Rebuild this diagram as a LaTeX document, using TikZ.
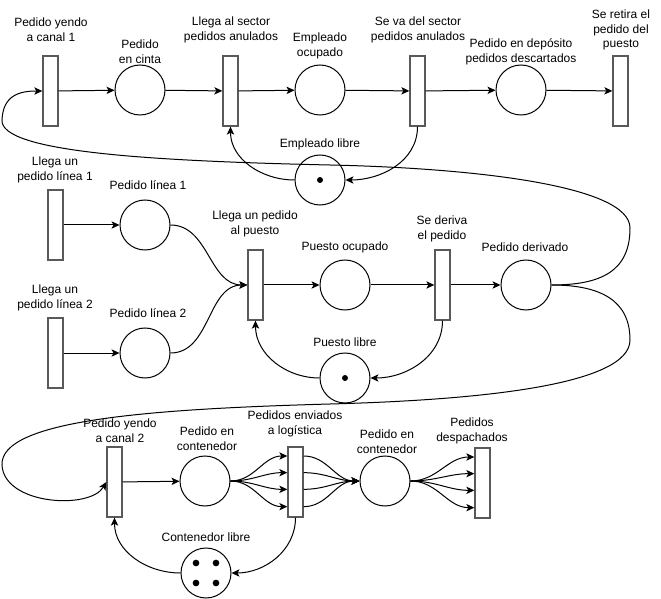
\documentclass[tikz,border=0pt]{standalone}
\usepackage{fontspec}
\setmainfont{Liberation Sans}
\usetikzlibrary{arrows.meta}
\usetikzlibrary{shapes}
\usetikzlibrary{positioning}
\tikzstyle{place}=[circle, draw, line width=.75pt, minimum size=37.5pt, inner sep=0pt]
\tikzstyle{trans}=[rectangle, draw=black!65, line width=1pt, minimum width=11.25pt, minimum height=52.5pt, inner sep=0pt]
\tikzstyle{lbl}=[align=center, font={\fontsize{9}{11}\selectfont}, inner sep=0pt]
\tikzstyle{link}=[->, >={Stealth[length=6pt, width=5.5pt, inset=1.5pt]}, line width=.75pt]

\begin{document}
\begin{tikzpicture}[x=0.75pt, y=-0.75pt]

    \useasboundingbox (0, 0) rectangle (661, 599);

    % first row
    \node[trans] (t1) at (50.5, 91) {};
    \node[place] (p1) at (140, 90) {};
    \node[trans] (t2) at (230.5, 91) {};
    \node[place] (p2) at (320, 90) {};
    \node[trans] (t3) at (417.5, 91) {};
    \node[place] (p3) at (521, 90) {};
    \node[trans] (t4) at (620.5, 91) {};
    \node[place] (el) at (320, 180) {};
    \fill (el.center) circle (2.25pt);

    \node[lbl] (t1l) at (51, 30) {Pedido yendo\\a canal 1};
    \node[lbl] (p1l) at (140, 52) {Pedido\\en cinta};
    \node[lbl] (t2l) at (231, 30) {Llega al sector\\pedidos anulados};
    \node[lbl] (p2l) at (320, 46) {Empleado\\ocupado};
    \node[lbl] (t3l) at (418, 30) {Se va del sector\\pedidos anulados};
    \node[lbl] (p3l) at (521, 52) {Pedido en depósito\\pedidos descartados};
    \node[lbl] (t4l) at (621, 30) {Se retira el\\pedido del\\puesto};
    \node[lbl] (ell) at (320, 144) {Empleado libre};

    \draw[link] (t1) -- (p1);
    \draw[link] (p1) -- (t2);
    \draw[link] (t2) -- (p2);
    \draw[link] (p2) -- (t3);
    \draw[link] (t3) -- (p3);
    \draw[link] (p3) -- (t4);
    \draw[link] (t3.south) to[out=-90, in=0] (el.east);
    \draw[link] (el.west) to[out=180, in=-90] (t2.south);

    % second row
    \node[trans] (t5) at (55.5, 225) {};
    \node[place] (p4) at (145, 225) {};
    \node[trans] (t6) at (55.5, 353) {};
    \node[place] (p5) at (145, 353) {};
    \node[trans] (t7) at (255.5, 285) {};
    \node[place] (p6) at (345, 285) {};
    \node[trans] (t8) at (442.5, 285) {};
    \node[place] (p7) at (526, 285) {};
    \node[place] (pl) at (345, 378) {};
    \fill (pl.center) circle (2.25pt);

    \node[lbl] (t5l) at (55, 170) {Llega un\\pedido línea 1};
    \node[lbl] (p4l) at (148, 185) {Pedido línea 1};
    \node[lbl] (t6l) at (55, 298) {Llega un\\pedido línea 2};
    \node[lbl] (p5l) at (148, 313) {Pedido línea 2};
    \node[lbl] (t7l) at (255, 224) {Llega un pedido\\al puesto};
    \node[lbl] (p6l) at (345, 247) {Puesto ocupado};
    \node[lbl] (t8l) at (442, 229) {Se deriva\\el pedido};
    \node[lbl] (p7l) at (525, 247) {Pedido derivado};
    \node[lbl] (pll) at (345, 342) {Puesto libre};

    \draw[link] (t5) -- (p4);
    \draw[link] (t6) -- (p5);
    \draw[link] (p4.east) to[out=0, in=180] (t7.west);
    \draw[link] (p5.east) to[out=0, in=180] (t7.west);
    \draw[link] (t7) -- (p6);
    \draw[link] (p6) -- (t8);
    \draw[link] (t8) -- (p7);
    \draw[link] (t8.south) to[out=-90, in=0] (pl.east);
    \draw[link] (pl.west) to[out=180, in=-90] (t7.south);

    % third row
    \node[trans] (t9) at (114.5, 482) {};
    \node[place] (p9) at (205, 481) {};
    \node[trans] (t10) at (295.5, 482) {};
    \node[place] (p10) at (385, 481) {};
    \node[trans] (t11) at (482.5, 483) {};
    \node[place] (cl) at (206, 573) {};
    \foreach \dx/\dy in {-10/-10, 10/-10, -10/10, 10/10}
        \fill ([shift={(\dx, \dy)}]cl.center) circle (2.5pt);

    \node[lbl] (t9l) at (120, 431) {Pedido yendo\\a canal 2};
    \node[lbl] (p9l) at (207, 439) {Pedido en\\contenedor};
    \node[lbl] (t10l) at (295, 424) {Pedidos enviados\\a logística};
    \node[lbl] (p10l) at (387, 442) {Pedido en\\contenedor};
    \node[lbl] (t11l) at (472, 431) {Pedidos\\despachados};
    \node[lbl] (cll) at (206, 537) {Contenedor libre};

    \draw[link] (t9) -- (p9);
    \foreach \s in {19.5, 7, -5.5, -18.5} {
        \draw[link] (p9.east) to[out=0, in=180] ([yshift=\s pt]t10.west);
        \draw[link] ([yshift=\s pt]t10.east) to[out=0, in=180] (p10.west);
        \draw[link] (p10.east) to[out=0, in=180] ([yshift=\s pt]t11.west);
    }
    \draw[link] (t10.south) to[out=-90, in=0] (cl.east);
    \draw[link] (cl.west) to[out=180, in=-90] (t9.south);

    % long arcs back to the canals
    \draw[link] (p7.east) .. controls (600, 285) and (630, 272) .. (630, 228)
        .. controls (630, 185) and (470, 168) .. (330, 165)
        .. controls (150, 161) and (0, 152) .. (2, 120)
        .. controls (3, 95) and (20, 91) .. (t1.west);
    \draw[link] (p7.east) .. controls (600, 285) and (630, 300) .. (630, 340)
        .. controls (630, 385) and (480, 400) .. (330, 404)
        .. controls (150, 409) and (0, 420) .. (2, 465)
        .. controls (4, 505) and (90, 510) .. (t9.west);

\end{tikzpicture}
\end{document}
